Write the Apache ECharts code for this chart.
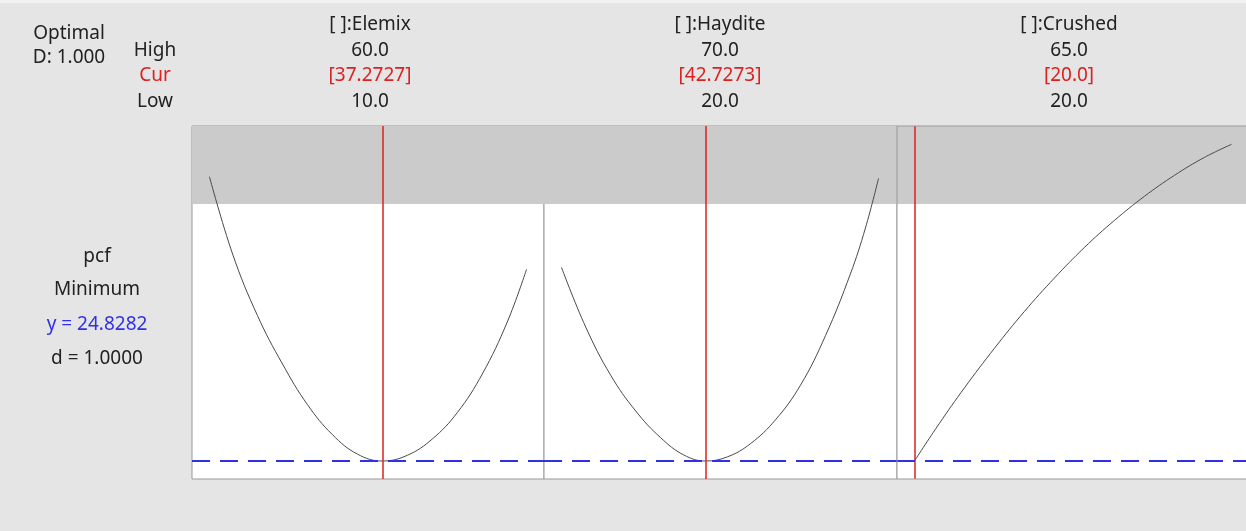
<!DOCTYPE html>
<html>
<head>
<meta charset="utf-8">
<script src="https://cdn.jsdelivr.net/npm/echarts@6/dist/echarts.min.js"></script>
<style>
html,body{margin:0;padding:0;background:#e5e5e5;}
#chart{width:1246px;height:531px;}
</style>
</head>
<body>
<div id="chart"></div>
<script>
// ---- data ----
const factors = ['[ ]:Elemix', '[ ]:Haydite', '[ ]:Crushed'];
const highVals = [60.0, 70.0, 65.0];
const curVals = [37.2727, 42.7273, 20.0];
const lowVals = [10.0, 20.0, 20.0];
const highLabels = ['60.0', '70.0', '65.0'];
const curLabels = ['[37.2727]', '[42.7273]', '[20.0]'];
const lowLabels = ['10.0', '20.0', '20.0'];

const yOpt = 24.8282;
const yBandLow = 50.53;   // start of shaded region
const yMin = 23.03, yMax = 58.33;

// pcf response traces (factor value, pcf)
const elemixCurve = [
  [10.0, 53.26], [13.65, 45.53], [17.58, 39.36], [21.52, 34.53], [25.46, 30.46],
  [29.4, 27.46], [33.33, 25.52], [37.27, 24.83], [41.2, 25.4], [45.14, 27.03],
  [49.08, 29.67], [53.02, 33.53], [56.96, 38.73], [60.0, 44.0]
];
const hayditeCurve = [
  [20.0, 44.2], [23.83, 38.22], [27.77, 33.4], [31.71, 29.83], [35.64, 27.16],
  [39.27, 25.44], [42.73, 24.83], [46.19, 25.25], [49.82, 26.57], [53.75, 28.95],
  [57.69, 32.41], [61.63, 37.36], [65.56, 43.54], [67.93, 48.13], [70.0, 53.1]
];
const crushedCurve = [
  [20.0, 24.83], [23.55, 28.6], [27.1, 32.15], [31.35, 36.1], [35.6, 39.78],
  [39.87, 43.13], [44.1, 46.17], [48.38, 48.89], [52.64, 51.3], [56.9, 53.4],
  [61.15, 55.19], [65.0, 56.5]
];
const curves = [elemixCurve, hayditeCurve, crushedCurve];

// ---- layout ----
const gridLefts = [192, 544, 897];
const gridWidths = [352, 353, 349];
const gridBorders = [1, 1, 0];
const colCenters = [370, 720, 1069];
const FONT = '"Noto Sans", "Open Sans", sans-serif';
const FS = 19;
const RED = '#dd2020', BLUE = '#3030e6', BLACK = '#222';
const BORDER = '#999999';

const chart = echarts.init(document.getElementById('chart'));

const grids = [], xAxes = [], yAxes = [], series = [];
for (let i = 0; i < 3; i++) {
  const range = highVals[i] - lowVals[i];
  const pad = range * 0.055;
  const unitPx = 352 / (range + 2 * pad);
  const xmin = lowVals[i] - pad;
  const xmax = xmin + gridWidths[i] / unitPx;
  grids.push({
    left: gridLefts[i], top: 126, width: gridWidths[i], height: 353,
    show: true, backgroundColor: '#ffffff', borderColor: BORDER, borderWidth: gridBorders[i]
  });
  xAxes.push({
    type: 'value', gridIndex: i, min: xmin, max: xmax,
    axisLine: {show: false}, axisTick: {show: false}, axisLabel: {show: false}, splitLine: {show: false}
  });
  yAxes.push({
    type: 'value', gridIndex: i, min: yMin, max: yMax,
    axisLine: {show: false}, axisTick: {show: false}, axisLabel: {show: false}, splitLine: {show: false}
  });
  series.push({
    type: 'line', xAxisIndex: i, yAxisIndex: i, data: curves[i],
    smooth: 0.4, showSymbol: false, silent: true,
    lineStyle: {color: '#4a4a4a', width: 1},
    markArea: {
      silent: true,
      itemStyle: {color: '#cbcbcb'},
      data: [[{yAxis: yBandLow}, {yAxis: yMax}]]
    },
    markLine: {
      silent: true, symbol: 'none', label: {show: false}, animation: false,
      data: [
        {xAxis: curVals[i], lineStyle: {color: RED, width: 1.5, type: 'solid'}},
        {yAxis: yOpt, lineStyle: {color: BLUE, width: 2, type: [18, 10]}}
      ]
    },
    z: 3
  });
}

const texts = [];
function txt(x, y, s, color) {
  texts.push({
    type: 'text', x: x, y: y,
    style: {text: s, fill: color || BLACK, font: FS + 'px ' + FONT, textAlign: 'center', textVerticalAlign: 'middle'}
  });
}
txt(69, 34, 'Optimal');
txt(69, 58, 'D: 1.000');
txt(155, 51, 'High');
txt(155, 76, 'Cur', RED);
txt(155, 102, 'Low');
for (let i = 0; i < 3; i++) {
  txt(colCenters[i], 25, factors[i]);
  txt(colCenters[i], 51, highLabels[i]);
  txt(colCenters[i], 76, curLabels[i], RED);
  txt(colCenters[i], 102, lowLabels[i]);
}
txt(97, 257, 'pcf');
txt(97, 290, 'Minimum');
txt(97, 325, 'y = 24.8282', BLUE);
txt(97, 359, 'd = 1.0000');

// frame edges of the last panel (its right side runs past the window)
const g3 = gridLefts[2], g3r = 1246;
const frame = [
  {type: 'line', shape: {x1: g3, y1: 126, x2: g3r, y2: 126}, style: {stroke: BORDER, lineWidth: 1}, z: 100, silent: true},
  {type: 'line', shape: {x1: g3, y1: 479, x2: g3r, y2: 479}, style: {stroke: BORDER, lineWidth: 1}, z: 100, silent: true},
  {type: 'line', shape: {x1: g3, y1: 126, x2: g3, y2: 479}, style: {stroke: BORDER, lineWidth: 1}, z: 100, silent: true}
];

chart.setOption({
  backgroundColor: '#e5e5e5',
  animation: false,
  grid: grids,
  xAxis: xAxes,
  yAxis: yAxes,
  series: series,
  graphic: [{type: 'rect', shape: {x: 0, y: 0, width: 1246, height: 3}, style: {fill: '#f2f2f2'}, silent: true}].concat(frame, texts)
});
</script>
</body>
</html>
